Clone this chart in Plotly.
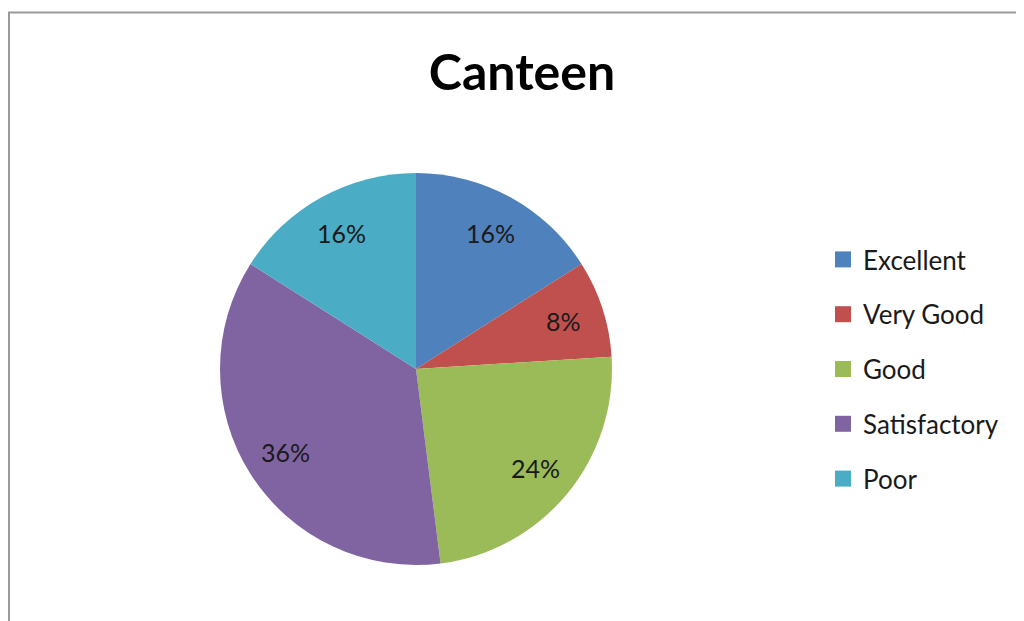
import math
import plotly.graph_objects as go

categories = ["Excellent", "Very Good", "Good", "Satisfactory", "Poor"]
values = [16, 8, 24, 36, 16]
colors = ["#4F81BD", "#C0504D", "#9BBB59", "#8064A2", "#4BACC6"]
title_text = "Canteen"

W, H = 1024, 621
OFF = 8  # page body margin
cx, cy, r = 416 - OFF, 369 - OFF, 196

fig = go.Figure()
fig.add_trace(go.Pie(
    labels=categories, values=values, sort=False, direction="clockwise", rotation=0,
    marker=dict(colors=colors, line=dict(width=0)),
    textinfo="none", showlegend=False, hoverinfo="label+percent",
    domain=dict(x=[(cx - r) / W, (cx + r) / W], y=[1 - (cy + r) / H, 1 - (cy - r) / H]),
))
for name, col in zip(categories, colors):
    fig.add_trace(go.Scatter(
        x=[None], y=[None], mode="markers", name=name, legendgroup=name,
        marker=dict(symbol="square", size=16, color=col), showlegend=True,
    ))

# percentage labels placed like the original (at ~0.79 of the radius, slice mid-angle)
total = sum(values)
annotations = []
cum = 0
for v in values:
    mid = (cum + v / 2) / total * 2 * math.pi
    cum += v
    px = cx + 0.79 * r * math.sin(mid)
    py = cy - 0.79 * r * math.cos(mid)
    annotations.append(dict(
        x=px / W, y=1 - py / H, xref="paper", yref="paper", showarrow=False,
        text=f"{round(v / total * 100)}%",
        font=dict(family="Lato", size=25, color="#1a1a1a"),
        xanchor="center", yanchor="middle",
    ))

fig.update_layout(
    width=W, height=H,
    margin=dict(l=0, r=0, t=0, b=0),
    paper_bgcolor="white", plot_bgcolor="white",
    title=dict(text="<b>" + title_text + "</b>", x=(522 - OFF) / W, xanchor="center",
               y=1 - (72 - OFF) / H, yanchor="middle",
               font=dict(family="Lato", size=50, color="black")),
    xaxis=dict(visible=False), yaxis=dict(visible=False),
    annotations=annotations,
    legend=dict(x=(823 - OFF) / W, y=1 - (236 - OFF) / H, xanchor="left", yanchor="top",
                font=dict(family="Lato", size=26, color="#1a1a1a"),
                tracegroupgap=18, itemwidth=30, bgcolor="rgba(0,0,0,0)"),
    shapes=[dict(type="rect", xref="paper", yref="paper",
                 x0=(9 - OFF) / W, x1=1.05, y0=-0.05, y1=1 - (12.5 - OFF) / H,
                 line=dict(color="#9a9a9a", width=2), layer="below")],
)
fig.write_html("out.html")
